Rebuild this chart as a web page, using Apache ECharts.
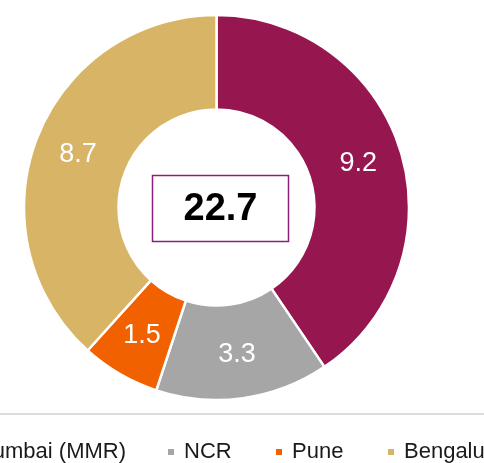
<!DOCTYPE html>
<html>
<head>
<meta charset="utf-8">
<style>
html,body{margin:0;padding:0;background:#fff;}
#c{width:484px;height:463px;}
</style>
<script src="https://cdn.jsdelivr.net/npm/echarts@6/dist/echarts.min.js"></script>
</head>
<body>
<div id="c"></div>
<script>
const categories = ['Mumbai (MMR)', 'NCR', 'Pune', 'Bengaluru'];
const values = [9.2, 3.3, 1.5, 8.7];
const colors = ['#96174F', '#A6A6A6', '#F26100', '#D8B466'];
const totalLabel = '22.7';

const chart = echarts.init(document.getElementById('c'), null, {renderer: 'canvas'});

const legendFont = {fontFamily: 'Liberation Sans, Arial, sans-serif', fontSize: 22, color: '#1a1a1a', padding: [0, 0, 0, 4]};
function mkLegend(name, pos) {
  return Object.assign({
    data: [name],
    top: 441,
    padding: 0,
    itemWidth: 8,
    itemHeight: 8,
    icon: 'rect',
    selectedMode: false,
    textStyle: legendFont
  }, pos);
}

chart.setOption({
  animation: false,
  backgroundColor: '#ffffff',
  color: colors,
  legend: [
    mkLegend(categories[0], {right: 358}),
    mkLegend(categories[1], {left: 166}),
    mkLegend(categories[2], {left: 274}),
    mkLegend(categories[3], {left: 386})
  ],
  graphic: [
    {type: 'rect', left: 0, top: 413, shape: {width: 484, height: 2}, style: {fill: '#DCDCDC'}, silent: true},
    {type: 'rect', shape: {x: 152.5, y: 175.5, width: 136, height: 66}, style: {fill: '#fff', stroke: '#8B207C', lineWidth: 1.5}, z: 10},
    {type: 'text', x: 220.5, y: 210, style: {text: totalLabel, fill: '#000', font: 'bold 38px "Liberation Sans", Arial, sans-serif', align: 'center', verticalAlign: 'middle'}, z: 11}
  ],
  series: [{
    type: 'pie',
    center: [216.5, 207.5],
    radius: [98, 192.5],
    startAngle: 90,
    clockwise: true,
    avoidLabelOverlap: false,
    itemStyle: {borderColor: '#fff', borderWidth: 2.5},
    label: {
      show: true,
      position: 'inside',
      formatter: p => p.value.toFixed(1),
      color: '#fff',
      fontSize: 27,
      fontFamily: 'Liberation Sans, Arial, sans-serif',
      textBorderWidth: 0
    },
    labelLine: {show: false},
    emphasis: {disabled: true},
    data: categories.map((n, i) => ({name: n, value: values[i]}))
  }]
});
</script>
</body>
</html>
